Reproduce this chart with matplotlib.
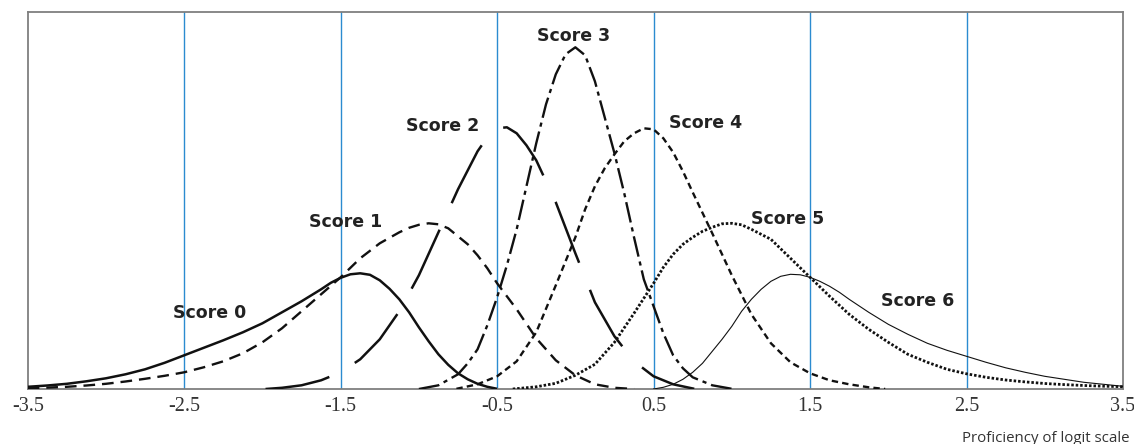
import matplotlib
matplotlib.use("Agg")
import matplotlib.pyplot as plt

plt.rcParams['lines.scale_dashes'] = False

# ---- data (x = proficiency in logits, y = relative density) ----
score0_x = [-3.5, -3.375, -3.25, -3.125, -3.0, -2.875, -2.75, -2.625, -2.5, -2.375, -2.25,
            -2.125, -2.0, -1.875, -1.75, -1.625, -1.5625, -1.5, -1.4375, -1.375, -1.3125,
            -1.25, -1.1875, -1.125, -1.0625, -1.0, -0.9375, -0.875, -0.8125, -0.75, -0.6875,
            -0.625, -0.5625, -0.5]
score0_y = [2.5, 3.8, 5.5, 8, 11, 15, 20, 26.5, 34, 41.5, 49,
            57, 66, 77, 88, 100, 106.5, 111.5, 115, 116, 114.5,
            109, 100.5, 90, 77, 62, 48, 35, 24.5, 16, 10,
            5.5, 2.5, 0.5]

score1_x = [-3.5, -3.375, -3.25, -3.125, -3.0, -2.875, -2.75, -2.625, -2.5, -2.375, -2.25,
            -2.125, -2.0, -1.875, -1.75, -1.625, -1.5, -1.375, -1.25, -1.125, -1.0625, -1.0,
            -0.9375, -0.875, -0.8125, -0.75, -0.6875, -0.625, -0.5625, -0.5, -0.4375, -0.375,
            -0.25, -0.125, 0.0, 0.125, 0.25, 0.375]
score1_y = [1, 1.7, 2.5, 3.8, 5.5, 7.8, 10.5, 13.5, 17, 22, 28,
            36, 47, 61, 78, 95, 112, 131, 146, 157, 161.5, 164.5,
            166, 165, 161, 153, 145, 134, 121, 106, 93, 80,
            51, 29, 14, 5, 1.5, 0.3]

score2_x = [-1.98, -1.875, -1.75, -1.625, -1.5, -1.375, -1.25, -1.125, -1.0, -0.875, -0.75,
            -0.625, -0.5625, -0.5, -0.4375, -0.375, -0.3125, -0.25, -0.125, 0.0, 0.125, 0.25,
            0.375, 0.5, 0.625, 0.76]
score2_y = [0.3, 1.5, 4, 9, 17, 30, 50, 78, 114, 157, 200,
            238, 252, 261, 262, 256, 244, 229, 187, 136, 87, 53,
            28, 13, 5, 0.5]

score3_x = [-1.0, -0.875, -0.75, -0.6875, -0.625, -0.5625, -0.5, -0.4375, -0.375, -0.3125,
            -0.25, -0.1875, -0.125, -0.0625, 0.0, 0.0625, 0.125, 0.1875, 0.25, 0.3125, 0.375,
            0.4375, 0.5, 0.5625, 0.625, 0.6875, 0.75, 0.875, 1.0]
score3_y = [0.3, 4, 15, 26, 40, 64, 92, 124, 160, 203,
            246, 285, 315, 335, 342, 334, 308, 272, 236, 196, 152,
            110, 83, 56, 34, 21, 12, 4, 0.5]

score4_x = [-0.76, -0.625, -0.5, -0.375, -0.25, -0.125, -0.0625, 0.0, 0.0625, 0.125, 0.1875,
            0.25, 0.3125, 0.375, 0.4375, 0.5, 0.5625, 0.625, 0.6875, 0.75, 0.875, 1.0, 1.125,
            1.25, 1.375, 1.5, 1.625, 1.75, 1.875, 1.98]
score4_y = [0.5, 5, 13, 28, 57, 104, 128, 152, 180, 203, 221,
            235, 248, 256, 261, 260, 251, 237, 218, 197, 156, 114, 75,
            46, 27, 16, 9, 5, 2, 0.3]

score5_x = [-0.4, -0.25, -0.125, 0.0, 0.125, 0.25, 0.375, 0.5, 0.5625, 0.625, 0.6875, 0.75,
            0.8125, 0.875, 0.9375, 1.0, 1.0625, 1.125, 1.25, 1.375, 1.5, 1.625, 1.75, 1.875,
            2.0, 2.125, 2.25, 2.375, 2.5, 2.625, 2.75, 2.875, 3.0, 3.125, 3.25, 3.375, 3.5]
score5_y = [0.3, 2.5, 6, 14, 25, 47, 76, 106, 122, 135, 145, 152,
            158, 162, 165.5, 166, 164.5, 160, 150, 131, 112, 93, 75, 60,
            47, 35, 27, 20, 15.5, 12, 9.3, 7.4, 5.8, 4.7, 3.8, 3.1, 2.6]

score6_x = [0.5, 0.5625, 0.625, 0.6875, 0.75, 0.8125, 0.875, 0.9375, 1.0, 1.0625, 1.125,
            1.1875, 1.25, 1.3125, 1.375, 1.4375, 1.5, 1.5625, 1.625, 1.6875, 1.75, 1.875, 2.0,
            2.125, 2.25, 2.375, 2.5, 2.625, 2.75, 2.875, 3.0, 3.125, 3.25, 3.375, 3.5]
score6_y = [0.3, 2, 5, 10, 17, 26, 38, 50, 63, 78, 90,
            100, 108, 113, 115, 114.5, 112, 108, 103, 97, 90, 77, 65,
            55, 46, 39, 33, 27, 21.5, 17, 13, 10, 7, 5, 3]

score_labels = ["Score 0", "Score 1", "Score 2", "Score 3", "Score 4", "Score 5", "Score 6"]
label_x = [-2.34, -1.47, -0.85, -0.01, 0.83, 1.355, 2.19]
label_y = [76, 167, 263, 353, 266, 170, 88]

xticks = [-3.5, -2.5, -1.5, -0.5, 0.5, 1.5, 2.5, 3.5]
xtick_labels = ["-3.5", "-2.5", "-1.5", "-0.5", "0.5", "1.5", "2.5", "3.5"]
gridlines_x = [-2.5, -1.5, -0.5, 0.5, 1.5, 2.5]
x_title = "Proficiency of logit scale"

# ---- figure ----
fig = plt.figure(figsize=(11.34, 4.44), dpi=100)
ax = fig.add_axes([27.7 / 1134, 1 - 389.3 / 444, (1123 - 27.7) / 1134, (389.3 - 11.7) / 444])
ax.set_xlim(-3.5, 3.5)
ax.set_ylim(0, 377.6)

for gx in gridlines_x:
    ax.axvline(gx, color='#2b8bd0', lw=1.0, zorder=1)

ink = '#111111'
ax.plot(score0_x, score0_y, color=ink, lw=1.8, solid_capstyle='butt',
        solid_joinstyle='round', zorder=3)
ax.plot(score1_x, score1_y, color=ink, lw=1.7, linestyle=(0, (8.4, 5.0)),
        dash_capstyle='butt', zorder=3)
ax.plot(score2_x, score2_y, color=ink, lw=1.8, linestyle=(0, (47, 21)),
        dash_capstyle='butt', zorder=3)
ax.plot(score3_x, score3_y, color=ink, lw=1.7, linestyle=(0, (15, 3.6, 3.0, 3.6)),
        dash_capstyle='butt', zorder=3)
ax.plot(score4_x, score4_y, color=ink, lw=1.7, linestyle=(0, (4.6, 3.0)),
        dash_capstyle='butt', zorder=3)
ax.plot(score5_x, score5_y, color=ink, lw=2.0, linestyle=(0, (1.8, 1.4)),
        dash_capstyle='butt', zorder=3)
ax.plot(score6_x, score6_y, color=ink, lw=0.8, solid_joinstyle='round', zorder=3)

for lab, lx, ly in zip(score_labels, label_x, label_y):
    ax.text(lx, ly, lab, ha='center', va='center', fontsize=12.5, fontweight='bold',
            family='DejaVu Sans', color='#222222', zorder=4)

ax.set_xticks(xticks)
ax.set_xticklabels(xtick_labels, family='Liberation Serif', fontsize=14.5, color='#333333')
ax.tick_params(axis='x', length=0, pad=5.5)
ax.set_yticks([])
for s in ax.spines.values():
    s.set_color('#7f7f7f')
    s.set_linewidth(1.3)

fig.text(1130 / 1134, 1 - 442 / 444, x_title, ha='right', va='baseline',
         family='Open Sans', fontsize=10.8, color='#333333')

fig.savefig('out.png', dpi=100)
